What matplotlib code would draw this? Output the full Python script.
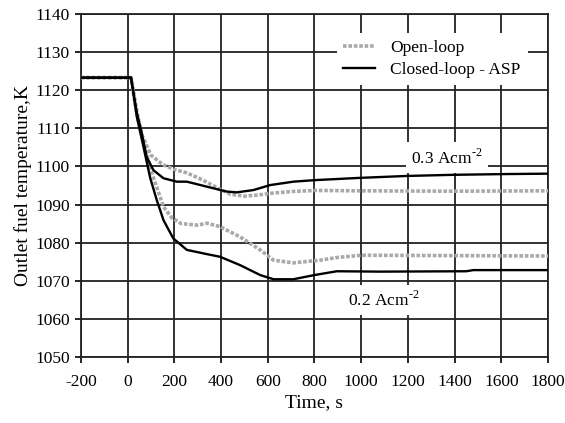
import matplotlib.pyplot as plt

plt.rcParams['font.family'] = ['Liberation Serif', 'DejaVu Serif']
plt.rcParams['axes.unicode_minus'] = False
plt.rcParams['mathtext.fontset'] = 'custom'
plt.rcParams['mathtext.rm'] = 'Liberation Serif'

# outlet fuel temperature after the current step, open- vs closed-loop
t_open_03 = [-200, 15, 40, 60, 100, 150, 200, 254, 320, 396, 440, 500, 560, 620, 700, 800, 1000, 1400, 1800]
T_open_03 = [1123.3, 1123.3, 1114.5, 1108.5, 1103.0, 1100.5, 1099.2, 1098.3, 1096.5, 1094.0, 1092.7,
             1092.2, 1092.5, 1093.0, 1093.4, 1093.7, 1093.6, 1093.5, 1093.6]

t_closed_03 = [-200, 15, 40, 60, 82, 111, 154, 211, 254, 339, 425, 468, 539, 610, 710, 800, 995,
               1195, 1395, 1623, 1800]
T_closed_03 = [1123.3, 1123.3, 1114.0, 1109.0, 1102.5, 1099.0, 1096.9, 1096.0, 1096.0, 1094.7, 1093.4,
               1093.2, 1093.8, 1095.1, 1096.0, 1096.4, 1097.0, 1097.5, 1097.8, 1098.0, 1098.1]

t_open_02 = [-200, 15, 40, 70, 100, 154, 190, 230, 300, 340, 396, 482, 568, 625, 710, 824, 896,
             1003, 1400, 1800]
T_open_02 = [1123.3, 1123.3, 1113.5, 1106.0, 1099.0, 1089.4, 1086.5, 1085.0, 1084.6, 1085.1, 1084.2,
             1081.5, 1078.1, 1075.4, 1074.7, 1075.4, 1076.1, 1076.7, 1076.6, 1076.5]

t_closed_02 = [-200, 15, 40, 68, 97, 125, 154, 196, 254, 339, 396, 482, 568, 625, 710, 800, 896,
               1081, 1450, 1480, 1800]
T_closed_02 = [1123.3, 1123.3, 1113.0, 1105.2, 1097.0, 1091.2, 1085.9, 1081.1, 1078.1, 1077.0, 1076.3,
               1074.1, 1071.5, 1070.4, 1070.4, 1071.5, 1072.5, 1072.4, 1072.5, 1072.8, 1072.8]

x_ticks = list(range(-200, 1801, 200))
y_ticks = list(range(1050, 1141, 10))

fig = plt.figure(figsize=(5.65, 4.23), dpi=100)
ax = fig.add_axes([0.143, 0.156, 0.827, 0.811])

dotted = dict(color='#a9a9a9', lw=2.6, ls=(0, (1.0, 0.5)), zorder=3)
solid = dict(color='black', lw=1.7, zorder=4)

ax.plot(t_open_03, T_open_03, label='Open-loop', **dotted)
ax.plot(t_closed_03, T_closed_03, label='Closed-loop - ASP', **solid)
ax.plot(t_open_02, T_open_02, **dotted)
ax.plot(t_closed_02, T_closed_02, **solid)

ax.set_xlim(-200, 1800)
ax.set_ylim(1050, 1140)
ax.set_xticks(x_ticks)
ax.set_yticks(y_ticks)
ax.grid(True, color='#222222', lw=1.3)
ax.set_axisbelow(True)
for sp in ax.spines.values():
    sp.set_color('#222222')
    sp.set_linewidth(1.3)
ax.tick_params(direction='out', length=4.5, width=1.2, labelsize=12.5, colors='black')
ax.tick_params(axis='x', pad=8)

ax.set_xlabel('Time, s', fontsize=14, labelpad=3)
ax.set_ylabel('Outlet fuel temperature,K', fontsize=14, labelpad=2)

box = dict(facecolor='white', edgecolor='none', pad=4)
ax.text(1368, 1102.3, r'0.3 Acm$^{\text{-2}}$', fontsize=12.5, ha='center', va='center', bbox=box, zorder=5)
ax.text(1098, 1065, r'0.2 Acm$^{\text{-2}}$', fontsize=12.5, ha='center', va='center', bbox=box, zorder=5)

leg = ax.legend(loc='upper right', bbox_to_anchor=(0.975, 0.97), fontsize=12.5, frameon=True,
                framealpha=1, edgecolor='none', handlelength=1.8, handletextpad=0.9,
                borderpad=0.4, labelspacing=0.35)
leg.get_frame().set_linewidth(0)
leg.set_zorder(6)

fig.savefig('out.png', dpi=100)
